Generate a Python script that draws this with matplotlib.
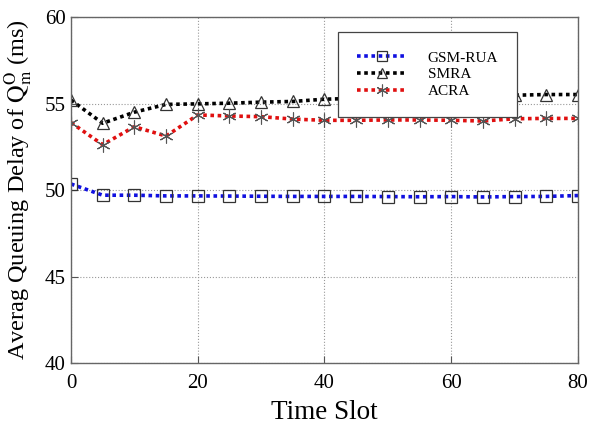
import matplotlib
matplotlib.use("Agg")
import matplotlib.pyplot as plt

plt.rcParams['font.family'] = ['Liberation Serif', 'DejaVu Serif']
plt.rcParams['mathtext.fontset'] = 'stix'

time_slot = [0, 5, 10, 15, 20, 25, 30, 35, 40, 45, 50, 55, 60, 65, 70, 75, 80]
gsm_rua = [50.35, 49.70, 49.70, 49.66, 49.66, 49.65, 49.64, 49.63, 49.63, 49.63, 49.62,
           49.61, 49.62, 49.60, 49.62, 49.63, 49.68]
smra = [55.2, 53.86, 54.5, 54.95, 54.98, 55.02, 55.08, 55.12, 55.25, 55.3, 55.35,
        55.38, 55.42, 55.45, 55.48, 55.52, 55.52]
acra = [53.9, 52.62, 53.66, 53.12, 54.34, 54.28, 54.24, 54.1, 54.03, 54.03, 54.05,
        54.05, 54.03, 53.99, 54.12, 54.14, 54.14]
labels = ["GSM-RUA", "SMRA", "ACRA"]

fig = plt.figure(figsize=(5.93, 4.25), dpi=100)
ax = fig.add_axes([0.1197, 0.1459, 0.855, 0.814])

ax.plot(time_slot, gsm_rua, color='#1010e0', linestyle=(0, (1, 1)), linewidth=2.6,
        marker='s', markersize=8, markerfacecolor='none', markeredgecolor='#333333',
        markeredgewidth=0.9, label=labels[0])
ax.plot(time_slot, smra, color='black', linestyle=(0, (1, 1)), linewidth=2.6,
        marker='^', markersize=9, markerfacecolor='none', markeredgecolor='#333333',
        markeredgewidth=0.9, label=labels[1])
ax.plot(time_slot, acra, color='#e01010', linestyle=(0, (1, 1)), linewidth=2.6,
        marker=(6, 2, 0), markersize=10, markerfacecolor='none', markeredgecolor='#555555',
        markeredgewidth=0.8, label=labels[2])

ax.set_xlim(0, 80)
ax.set_ylim(40, 60)
ax.set_xticks([0, 20, 40, 60, 80])
ax.set_yticks([40, 45, 50, 55, 60])
ax.tick_params(direction='in', labelsize=15, length=5, color='#555555')
ax.tick_params(axis='x', pad=8)
ax.tick_params(axis='y', pad=4)
ax.grid(True, linestyle=':', color='#999999', linewidth=0.8)
for s in ax.spines.values():
    s.set_color('#666666')
    s.set_linewidth(1.0)

ax.set_xlabel("Time Slot", fontsize=19.5, labelpad=5)
ax.set_ylabel(r"Averag Queuing Delay of $\mathrm{Q_m^O}$ (ms)", fontsize=17.5, labelpad=7)

leg = ax.legend(loc='upper left', bbox_to_anchor=(0.527, 0.957), fontsize=11,
                frameon=True, fancybox=False, edgecolor='#444444', framealpha=1,
                handlelength=3.2, borderpad=1.25, handletextpad=1.4, labelspacing=0.2,
                borderaxespad=0, markerscale=0.85)
leg.get_frame().set_linewidth(0.9)

fig.savefig("out.png", dpi=100)
